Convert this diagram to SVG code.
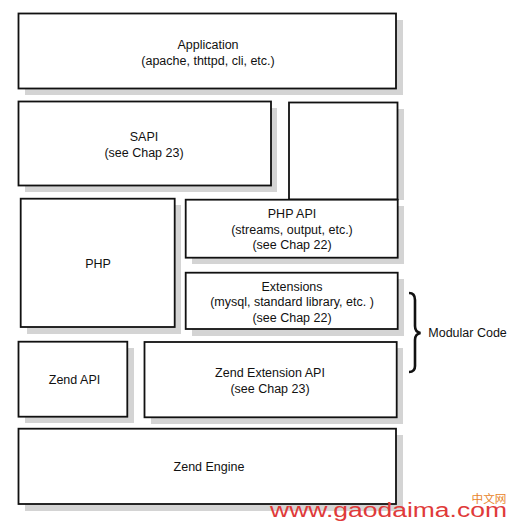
<svg xmlns="http://www.w3.org/2000/svg" width="518" height="529" viewBox="0 0 518 529">
<style>
.sh{fill:#d4d4d4;stroke:none}
.bx{fill:#fff;stroke:#111;stroke-width:1.8}
.t{font-family:"Liberation Sans",Arial,sans-serif;font-size:12.5px;fill:#111;text-anchor:middle}
.l{font-family:"Liberation Sans",Arial,sans-serif;font-size:12.5px;fill:#111}
</style>
<rect width="518" height="529" fill="#fff"/>
<g id="application">
<rect class="sh" x="25" y="20" width="378" height="75"/>
<rect class="bx" x="18.5" y="13.5" width="377.5" height="75"/>
<text class="t" x="208" y="49">Application</text>
<text class="t" x="208" y="65">(apache, thttpd, cli, etc.)</text>
</g>
<g id="sapi">
<rect class="sh" x="25" y="108" width="252" height="84"/>
<rect class="bx" x="18.5" y="101.5" width="252.5" height="84"/>
<text class="t" x="144" y="141">SAPI</text>
<text class="t" x="144" y="157">(see Chap 23)</text>
</g>
<g id="blank">
<rect class="sh" x="295" y="109" width="109" height="91"/>
<rect class="bx" x="289" y="102.5" width="108.5" height="97"/>
</g>
<g id="php">
<rect class="sh" x="27" y="205" width="154" height="129"/>
<rect class="bx" x="20.7" y="198.7" width="154" height="128.3"/>
<text class="t" x="98" y="268">PHP</text>
</g>
<g id="php-api">
<rect class="sh" x="192" y="206" width="212" height="58"/>
<rect class="bx" x="185.7" y="199.7" width="212" height="58"/>
<text class="t" x="292" y="218">PHP API</text>
<text class="t" x="292" y="233.5">(streams, output, etc.)</text>
<text class="t" x="292" y="249">(see Chap 22)</text>
</g>
<g id="extensions">
<rect class="sh" x="192" y="279" width="212" height="57"/>
<rect class="bx" x="185.7" y="272.7" width="212" height="56.3"/>
<text class="t" x="292" y="290.5">Extensions</text>
<text class="t" x="292" y="306">(mysql, standard library, etc. )</text>
<text class="t" x="292" y="321.5">(see Chap 22)</text>
</g>
<g id="zend-api">
<rect class="sh" x="25" y="348" width="109" height="75"/>
<rect class="bx" x="18.5" y="341.7" width="108.8" height="75"/>
<text class="t" x="74.5" y="384">Zend API</text>
</g>
<g id="zend-extension-api">
<rect class="sh" x="151" y="348" width="252" height="76"/>
<rect class="bx" x="144.5" y="342" width="252.2" height="75.3"/>
<text class="t" x="270" y="377">Zend Extension API</text>
<text class="t" x="270" y="392.5">(see Chap 23)</text>
</g>
<g id="zend-engine">
<rect class="sh" x="25" y="435" width="378" height="76"/>
<rect class="bx" x="18.5" y="428.7" width="377.5" height="75.3"/>
<text class="t" x="209" y="471">Zend Engine</text>
</g>
<g id="connectors">
<path d="M409,293 Q415,293 415,300 L415,326 Q415,332 420.5,333 Q415,334 415,340 L415,366 Q415,372 409,372" fill="none" stroke="#111" stroke-width="2.6"/>
</g>
<g id="modular-code">
<text class="l" x="428.3" y="337">Modular Code</text>
</g>
<g id="watermark">
<text x="471.5" y="503" font-family="'Noto Sans CJK SC',sans-serif" font-size="11.5" fill="#e8842a" textLength="35" lengthAdjust="spacingAndGlyphs">中文网</text>
<text x="270" y="517" font-family="'Liberation Sans',Arial,sans-serif" font-size="19.5" fill="#e03a3a" textLength="237" lengthAdjust="spacingAndGlyphs">www.gaodaima.com</text>
</g>
</svg>
